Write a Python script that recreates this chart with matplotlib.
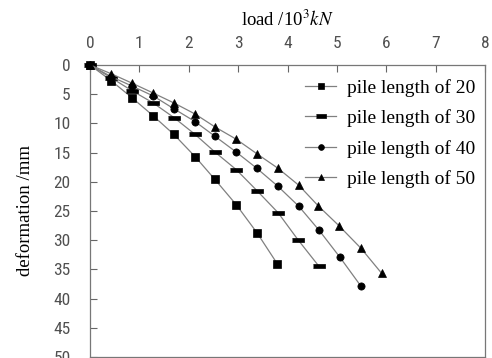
#!/usr/bin/env python3
"""Load-deformation curves for four pile lengths."""

import matplotlib

matplotlib.use("Agg")
import matplotlib.pyplot as plt
from matplotlib import font_manager

load_20 = [0, 0.43, 0.85, 1.28, 1.70, 2.13, 2.53, 2.96, 3.38, 3.79]
def_20 = [0, 2.7, 5.6, 8.7, 11.9, 15.7, 19.6, 23.9, 28.7, 34.0]

load_30 = [0, 0.43, 0.85, 1.28, 1.70, 2.13, 2.53, 2.96, 3.38, 3.81, 4.21, 4.64]
def_30 = [0, 2.2, 4.4, 6.5, 9.0, 11.9, 14.9, 17.9, 21.5, 25.3, 29.9, 34.5]

load_40 = [0, 0.43, 0.85, 1.28, 1.70, 2.13, 2.53, 2.96, 3.38, 3.81, 4.23, 4.64, 5.06, 5.49]
def_40 = [0, 2.0, 3.6, 5.3, 7.5, 9.7, 12.2, 14.9, 17.7, 20.8, 24.2, 28.3, 32.9, 37.9]

load_50 = [0, 0.43, 0.85, 1.28, 1.70, 2.13, 2.53, 2.96, 3.38, 3.81, 4.23, 4.62, 5.04, 5.49, 5.91]
def_50 = [0, 1.5, 3.1, 4.8, 6.5, 8.4, 10.6, 12.7, 15.2, 17.7, 20.6, 24.1, 27.5, 31.4, 35.7]

labels = ["pile length of 20", "pile length of 30", "pile length of 40", "pile length of 50"]
x_ticks = list(range(0, 9))
y_ticks = list(range(0, 51, 5))


def main() -> int:
    plt.rcParams["mathtext.fontset"] = "stix"
    names = {f.name for f in font_manager.fontManager.ttflist}
    tick_font = "DejaVu Sans"
    for cand in ("Liberation Sans Narrow", "DejaVu Sans Condensed", "Roboto Condensed", "Open Sans Condensed"):
        if cand in names:
            tick_font = cand
            break
    serif = ["Liberation Serif", "DejaVu Serif"]

    fig = plt.figure(figsize=(4.92, 3.58), dpi=100)
    ax = fig.add_axes([90 / 492, 1 - 357 / 358, 395 / 492, 292 / 358])

    dash = [(-1, -0.32), (1, -0.32), (1, 0.32), (-1, 0.32)]
    series = [
        (load_20, def_20, "s", 6.0),
        (load_30, def_30, dash, 9.0),
        (load_40, def_40, "o", 5.2),
        (load_50, def_50, "^", 5.6),
    ]
    for (xs, ys, marker, size), label in zip(series, labels):
        ax.plot(xs, ys, color="#808080", linewidth=0.9, marker=marker, markersize=size,
                markerfacecolor="black", markeredgecolor="black", markeredgewidth=0.5,
                label=label, clip_on=False, zorder=3)

    ax.set_xlim(0, 8)
    ax.set_ylim(50, 0)
    ax.set_xticks(x_ticks)
    ax.set_yticks(y_ticks)
    ax.xaxis.tick_top()
    ax.xaxis.set_label_position("top")
    ax.tick_params(direction="in", length=5, width=0.8, color="#666666",
                   labelsize=12.5, labelcolor="#505050", pad=10)
    ax.tick_params(axis="y", pad=14)
    for lab in ax.get_xticklabels() + ax.get_yticklabels():
        lab.set_fontfamily(tick_font)
        if tick_font == "DejaVu Sans":
            lab.set_fontstretch("condensed")
    for side in ("top", "left", "right", "bottom"):
        ax.spines[side].set_color("#777777")
        ax.spines[side].set_linewidth(0.9)

    ax.set_xlabel(r"load /10$^3$$\it{kN}$", family=serif, fontsize=13.5, labelpad=7)
    ax.set_ylabel("deformation /mm", family=serif, fontsize=13.5, labelpad=14)

    ax.legend(loc="upper right", bbox_to_anchor=(1.0, 0.985), frameon=False,
              prop={"family": serif, "size": 14}, handlelength=1.6, markerscale=0.8,
              labelspacing=0.64, handletextpad=0.55, borderaxespad=0.1)

    fig.savefig("out.png", dpi=100)
    plt.close(fig)
    return 0


if __name__ == "__main__":
    raise SystemExit(main())
